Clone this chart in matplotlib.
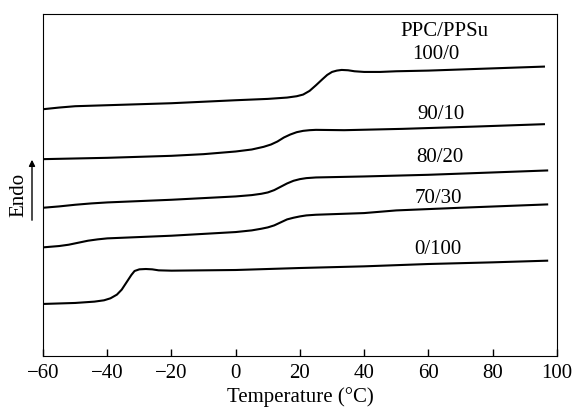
import numpy as np
import matplotlib.pyplot as plt
from matplotlib.patches import FancyArrowPatch

plt.rcParams['font.family'] = ['Liberation Serif', 'DejaVu Serif']

# DSC traces (y in arbitrary heat-flow units)
t_100_0 = [-60, -55, -50, -40, -20, 0, 10, 16, 19, 21, 23, 25, 27, 28.5, 30, 31.5, 33, 35, 37, 40, 45, 50, 60, 75, 96]
h_100_0 = [740, 745, 749, 752, 758, 767, 771, 775, 779, 784, 795, 812, 830, 843, 852, 856, 858, 857, 854, 852, 852, 854, 856, 861, 868]

t_90_10 = [-60, -40, -20, -10, 0, 5, 8.7, 11, 13, 15, 17, 19, 21, 23, 25, 33.8, 52, 75, 96]
h_90_10 = [590, 594, 600, 605, 613, 619, 627, 634, 643, 655, 664, 671, 675, 677, 678, 677, 681, 688, 695]

t_80_20 = [-60, -55, -50, -45, -40, -20, 0, 5, 8, 10, 12, 14, 16, 18, 20, 22, 25, 40, 60, 80, 97]
h_80_20 = [444, 448, 453, 457, 460, 468, 478, 482, 486, 490, 497, 507, 517, 525, 530, 533, 535, 538, 543, 550, 556]

t_70_30 = [-60, -55, -52, -49, -46, -43, -40, -20, 0, 5, 8, 10, 12, 14, 16, 18, 20, 22, 25, 40, 50, 70, 97]
h_70_30 = [325, 329, 333, 339, 345, 349, 352, 360, 371, 376, 381, 385, 391, 400, 409, 414, 418, 421, 423, 428, 436, 444, 454]

t_0_100 = [-60, -50, -44, -41, -39, -37, -35.5, -34, -32.5, -31.5, -30, -28, -26, -24, -20, 0, 20, 40, 60, 80, 97]
h_0_100 = [155, 158, 162, 166, 172, 183, 198, 220, 242, 254, 259, 260, 259, 256, 255, 257, 263, 268, 275, 280, 285]

curves = [(t_100_0, h_100_0), (t_90_10, h_90_10), (t_80_20, h_80_20),
          (t_70_30, h_70_30), (t_0_100, h_0_100)]

labels = ['100/0', '90/10', '80/20', '70/30', '0/100']
label_x = [62.3, 64, 63.5, 63, 63]
label_y = [903, 725, 595, 473, 320]

xticks = [-60, -40, -20, 0, 20, 40, 60, 80, 100]
xticklabels = ['\u221260', '\u221240', '\u221220', '0', '20', '40', '60', '80', '100']

fig = plt.figure(figsize=(5.74, 4.12), dpi=100)
ax = fig.add_axes([0.075, 0.137, 0.895, 0.829])

for t, h in curves:
    ax.plot(t, h, color='black', lw=1.5)

for lab, x, y in zip(labels, label_x, label_y):
    ax.text(x, y, lab, ha='center', va='center', fontsize=15)
ax.text(65, 973, 'PPC/PPSu', ha='center', va='center', fontsize=15)

ax.set_xlim(-60, 100)
ax.set_ylim(0, 1026)
ax.set_xticks(xticks)
ax.set_xticklabels(xticklabels, fontsize=15)
ax.set_yticks([])
ax.tick_params(axis='x', direction='in', length=5, width=1, top=False, pad=6)
ax.set_xlabel('Temperature (\u00b0C)', fontsize=15, labelpad=3)

# Endo arrow on the left
fig.patches.append(FancyArrowPatch(
    (32 / 574, 1 - 223 / 412), (32 / 574, 1 - 157 / 412), transform=fig.transFigure,
    arrowstyle='-|>', mutation_scale=9, color='black', lw=1))
fig.text(19 / 574, 1 - 195 / 412, 'Endo', rotation=90, ha='center', va='center', fontsize=15)

fig.savefig('out.png', dpi=100)
